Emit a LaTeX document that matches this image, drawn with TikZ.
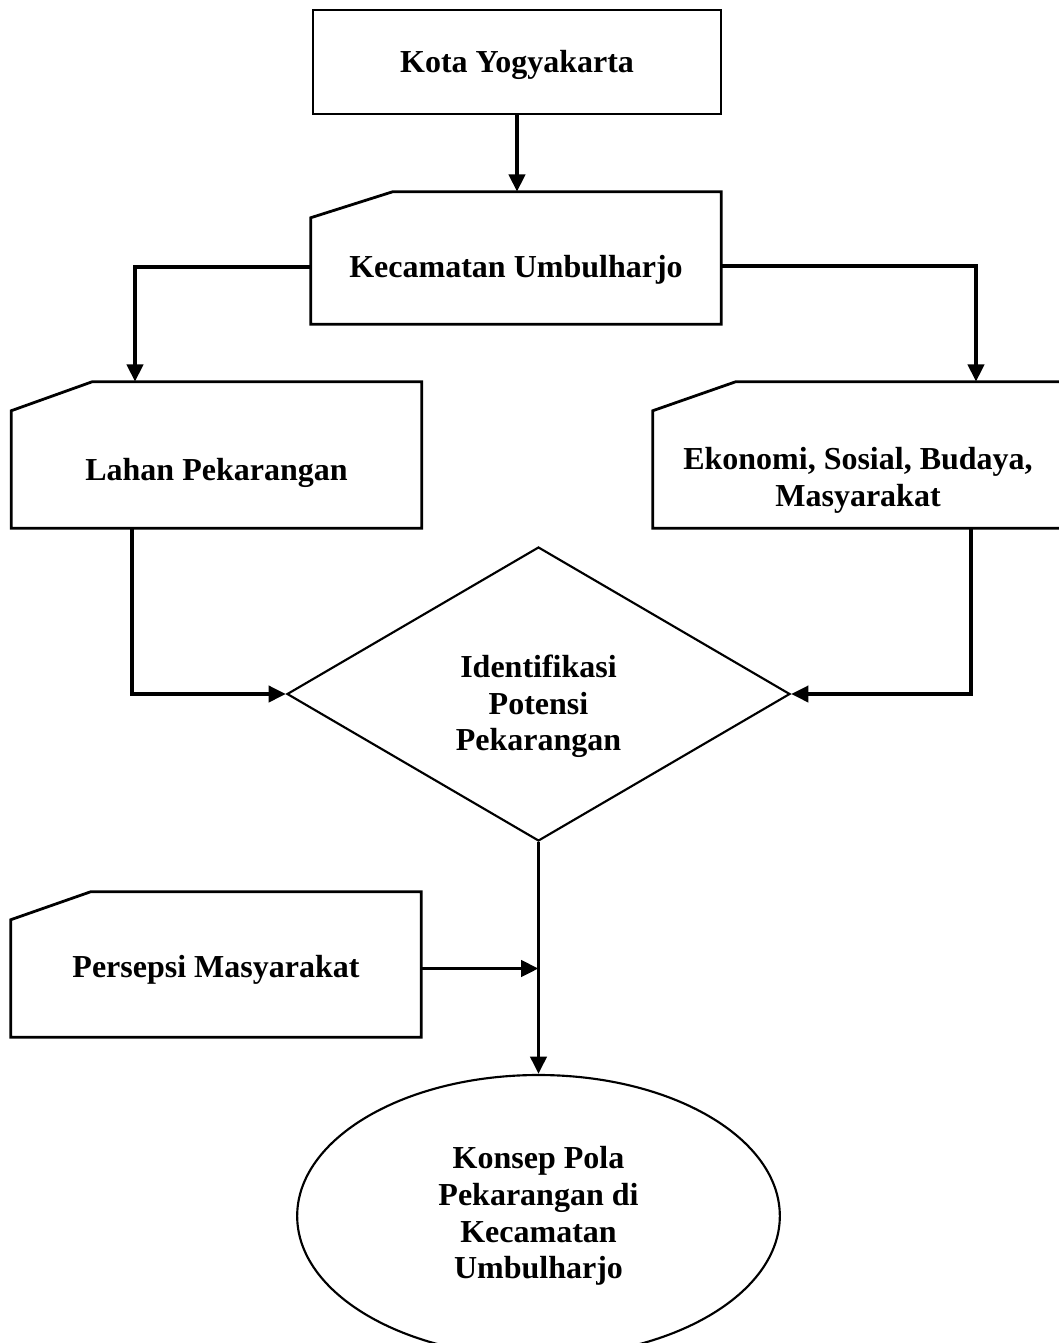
\documentclass[tikz,border=0pt]{standalone}
\usepackage{fontspec}
\setmainfont{Liberation Serif}
\usetikzlibrary{shapes.geometric,arrows.meta,calc}
\newcommand\cardoutline[3]{%
  \draw[boxline] ($(#1.north west)+(0,#3)$) -- ($(#1.north west)+(#2,0)$)
    -- (#1.north east) -- (#1.south east) -- (#1.south west) -- cycle;}
\begin{document}
\begin{tikzpicture}[x=0.75pt,y=-0.75pt,
  every node/.style={font=\bfseries\fontsize{24}{27.5}\selectfont, align=center},
  boxline/.style={line width=2.1pt},
  cardbox/.style={rectangle, minimum width=307.5pt, minimum height=109.5pt, inner sep=0pt},
  txt/.style={inner sep=0pt},
  thinline/.style={line width=1.6pt},
  conn/.style={line width=2.9pt},
  arr/.style={conn, -{Triangle[length=13pt,width=12pt]}},
]
\useasboundingbox (0,0) rectangle (1058,1343);

% boxes
\node[draw, boxline, rectangle, minimum width=306pt, minimum height=78pt, inner sep=0pt] (kota) at (517,62) {};
\node[txt] (kota-t) at (517,64.5) {Kota Yogyakarta};

\node[cardbox, minimum height=99pt] (kec) at (516,258) {};
\cardoutline{kec}{82}{26}
\node[txt] (kec-t) at (516,269.5) {Kecamatan Umbulharjo};

\node[cardbox] (lahan) at (216.5,455) {};
\cardoutline{lahan}{81}{29}
\node[txt] (lahan-t) at (216.5,472.5) {Lahan Pekarangan};

\node[cardbox] (eko) at (858,455) {};
\cardoutline{eko}{83}{29}
\node[txt] (eko-t) at (858,480.5) {Ekonomi, Sosial, Budaya,\\Masyarakat};

\node[diamond, draw, thinline, minimum width=377.25pt, minimum height=220.5pt, inner sep=0pt] (ident) at (538.5,694) {};
\node[txt] (ident-t) at (538.5,706.5) {Identifikasi\\Potensi\\Pekarangan};

\node[cardbox, minimum height=108.75pt] (pers) at (216,964.5) {};
\cardoutline{pers}{80}{28}
\node[txt] (pers-t) at (216,969.5) {Persepsi Masyarakat};

\node[ellipse, draw, thinline, minimum width=362pt, minimum height=211.5pt, inner sep=0pt] (konsep) at (538.5,1216) {Konsep Pola\\Pekarangan di\\Kecamatan\\Umbulharjo};

% connectors
\draw[arr] (kota.south) -- (kota.south |- kec.north);
\draw[arr] ($(kec.west)+(0,9)$) -| ($(lahan.north)+(-81.5,0)$);
\draw[arr] ($(kec.east)+(0,8)$) -| ($(eko.north)+(118,0)$);
\draw[arr] ($(lahan.south)+(-84.5,0)$) |- (ident.west);
\draw[arr] ($(eko.south)+(113,0)$) |- (ident.east);
\draw[arr] (ident.south) -- (konsep.north);
\coordinate (pj) at ($(pers.east)+(0,4)$);
\coordinate (j) at (ident.south |- pj);
\draw[arr] (pj) -- (j);
\end{tikzpicture}
\end{document}
